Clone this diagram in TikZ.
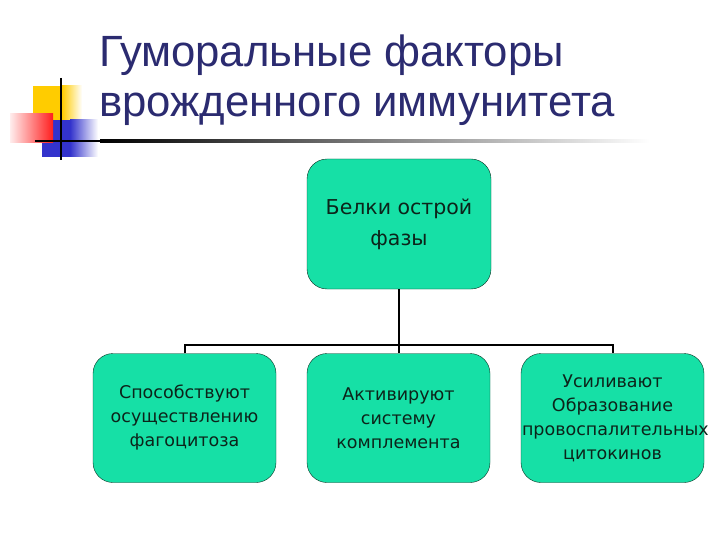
\documentclass[tikz,border=0pt]{standalone}
\usepackage{fontspec}
\setmainfont{Liberation Sans}
\newfontfamily\boxfont{DejaVu Sans}
\usetikzlibrary{positioning, backgrounds}
\definecolor{titleblue}{RGB}{43,43,112}
\definecolor{boxfill}{RGB}{22,224,166}
\definecolor{boxline}{RGB}{10,50,35}
\definecolor{boxtext}{RGB}{12,36,26}
\definecolor{markyellow}{RGB}{255,204,0}
\definecolor{markblue}{RGB}{51,51,204}
\definecolor{markred}{RGB}{255,30,30}
\tikzstyle{block} = [rectangle, draw=boxline, fill=boxfill, rounded corners=20pt,
                 minimum width=183pt, minimum height=129pt, text=boxtext,
                 align=center, font=\boxfont\fontsize{17.5}{24}\selectfont]
\tikzstyle{branch} = [line width=2pt, draw]
\tikzset{
	heading/.style={anchor=base west, align=left, text=titleblue,
		font=\fontsize{43.7}{50}\selectfont, inner sep=0pt},
}

\begin{document}
\begin{tikzpicture}[x=1pt, y=-1pt]
\useasboundingbox (0,0) rectangle (720,540);

    	%corner marks
\fill[markyellow] (33,86) rectangle (62,120);
\shade[left color=markyellow, right color=white] (62,86) rectangle (82,120);
\fill[markblue] (42,120) rectangle (70,157);
\shade[left color=markblue, right color=white] (70,120) rectangle (98,157);
\shade[left color=markred!8, right color=markred] (10,114) rectangle (53,143);
\fill[black] (35,139.8) rectangle (100,142.2);
\shade[left color=black, right color=white] (100,139.8) rectangle (650,142.2);
\draw[line width=2.5pt] (61,78) -- (61,160);

\node [heading] at (99,117) (title) {Гуморальные факторы\\врожденного иммунитета};

\node [block, minimum width=184pt, minimum height=130pt,
	font=\boxfont\fontsize{20.5}{31}\selectfont] at (399,224) (phase) {Белки острой\\фазы};

\node [block] at (184.5,418) (fago) {Способствуют\\осуществлению\\фагоцитоза};
\node [block] at (398.5,418) (compl) {Активируют\\систему\\комплемента};
\node [block, text width=181pt, inner xsep=1pt] at (612.5,418) (cyto)
	{Усиливают\\Образование\\провоспалительных\\цитокинов};

\coordinate (split) at (399,345);

\path [branch, line width=2.8pt] (phase.south) -- (phase.south |- compl.north);
\path [branch] (fago.north) |- (split) -| (cyto.north);

\end{tikzpicture}
\end{document}
